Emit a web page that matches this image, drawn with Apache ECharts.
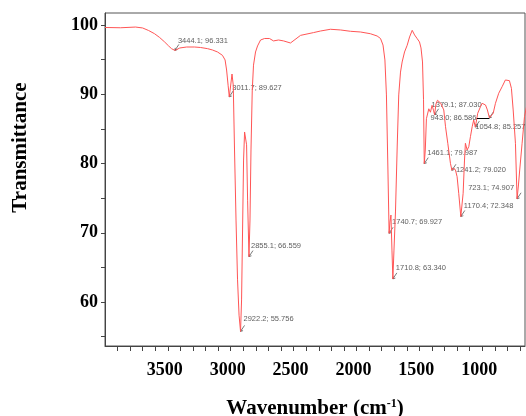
<!DOCTYPE html>
<html>
<head>
<meta charset="utf-8">
<script src="https://cdn.jsdelivr.net/npm/echarts@6/dist/echarts.min.js"></script>
<style>
  html, body { margin: 0; padding: 0; background: #fff; }
  #main { width: 526px; height: 416px; }
</style>
</head>
<body>
<div id="main"></div>
<script>
// FTIR spectrum, wavenumbers (cm-1) and transmittance
var wavenumber = [4000, 3876, 3757, 3701, 3653, 3606, 3566, 3526, 3494, 3471, 3444.1, 3405, 3351, 3288, 3240, 3184, 3145, 3105, 3066, 3045,
  3033, 3021, 3011.7, 3003, 2990, 2980, 2970, 2958, 2946, 2934, 2922.2, 2914, 2906, 2898, 2890, 2882, 2874, 2866, 2855.1, 2847,
  2839, 2829, 2819, 2803, 2787, 2763, 2731, 2692, 2660, 2620, 2580, 2525, 2445, 2342, 2286, 2207, 2127, 2048, 1969, 1890,
  1836, 1809, 1789, 1774, 1762, 1750, 1740.7, 1734, 1726, 1718, 1710.8, 1702, 1690, 1676, 1664, 1650, 1637, 1618, 1597, 1578,
  1557, 1538, 1517, 1499, 1487, 1475, 1467, 1461.1, 1453, 1444, 1425, 1412, 1399, 1388, 1379.1, 1368, 1356, 1330, 1306, 1292,
  1274, 1253, 1241.2, 1227, 1213, 1200, 1187, 1170.4, 1152, 1141, 1134, 1120, 1107, 1094, 1080, 1068, 1054.8, 1036, 1014, 1001,
  974, 959, 943.0, 931, 913, 895, 869, 842, 816, 802, 784, 768, 754, 736, 723.1, 712, 702, 683, 664, 648];
var transmittance = [99.64, 99.6, 99.7, 99.57, 99.2, 98.74, 98.2, 97.55, 96.97, 96.58, 96.331, 96.68, 96.82, 96.82, 96.75, 96.58, 96.39, 96.1, 95.62, 94.95,
  93.5, 91.3, 89.627, 90.9, 92.92, 91.3, 81.95, 71.84, 63.2, 58.1, 55.756, 60.3, 70.4, 80.5, 84.55, 84.8, 82.7, 74.7, 66.559, 71.84,
  81.95, 90.6, 94.2, 96.1, 96.97, 97.83, 98.05, 98.05, 97.7, 97.83, 97.7, 97.4, 98.5, 98.9, 99.13, 99.38, 99.28, 99.09, 98.99, 98.74,
  98.41, 98.05, 97.1, 94.95, 89.9, 79.06, 69.927, 71.55, 72.56, 67.5, 63.34, 67.5, 73.0, 82.67, 89.9, 93.2, 94.66, 96.1, 97.07, 98.27,
  99.23, 98.56, 98.02, 97.55, 96.68, 94.66, 89.2, 79.987, 81.95, 86.47, 87.9, 87.4, 88.4, 87.7, 87.03, 88.6, 89.13, 88.7, 87.73, 85.31,
  82.92, 80.03, 79.02, 79.35, 79.06, 78.09, 75.7, 72.348, 75.7, 80.5, 82.92, 81.95, 82.43, 83.87, 85.31, 86.28, 85.257, 87.25, 88.2, 88.69,
  88.45, 87.73, 86.586, 86.86, 87.25, 88.69, 90.14, 91.09, 92.06, 92.3, 91.96, 90.86, 87.73, 82.92, 74.907, 76.9, 79.06, 82.92, 86.76, 88.2];

// labelled peaks
var peakWn = [3444.1, 3011.7, 2922.2, 2855.1, 1740.7, 1710.8, 1461.1, 1379.1, 943.0, 1054.8, 1241.2, 1170.4, 723.1];
var peakT = [96.331, 89.627, 55.756, 66.559, 69.927, 63.340, 79.987, 87.030, 86.586, 85.257, 79.020, 72.348, 74.907];
var peakText = ['3444.1; 96.331', '3011.7; 89.627', '2922.2; 55.756', '2855.1; 66.559', '1740.7; 69.927', '1710.8; 63.340',
  '1461.1; 79.987', '1379.1; 87.030', '943.0; 86.586', '1054.8; 85.257', '1241.2; 79.020', '1170.4; 72.348', '723.1; 74.907'];

var xTicks = [700, 800, 900, 1000, 1100, 1200, 1300, 1400, 1500, 1600, 1700, 1800, 1900, 2000, 2100, 2200, 2300, 2400,
  2500, 2600, 2700, 2800, 2900, 3000, 3100, 3200, 3300, 3400, 3500, 3600, 3700, 3800, 3900];
var xLabels = [1000, 1500, 2000, 2500, 3000, 3500];
var yTicks = [55, 60, 65, 70, 75, 80, 85, 90, 95, 100];
var yLabels = [60, 70, 80, 90, 100];

// where each peak label sits relative to its arrow [dx, dy, align]
var labelPlace = [[1, -6, 'left'], [1, -6, 'left'], [1, -9, 'left'], [0, -8, 'left'], [1, -8, 'left'], [1, -8, 'left'],
  [1, -8, 'left'], [-5, -7, 'left'], [-15, 3, 'right'], [-2, 3, 'left'], [2, 3, 'left'], [1, -8, 'left'], [-5, -8, 'right']];

var spectrum = wavenumber.map(function (w, i) { return [w, transmittance[i]]; });
var peaks = peakWn.map(function (w, i) {
  return {
    value: [w, peakT[i]],
    label: { offset: [labelPlace[i][0], labelPlace[i][1]], align: labelPlace[i][2] }
  };
});

var serif = '"Liberation Serif", "Times New Roman", serif';
var small = '"Liberation Sans Narrow", "Arial Narrow", "Liberation Sans", sans-serif';

var chart = echarts.init(document.getElementById('main'));
chart.setOption({
  animation: false,
  grid: {
    left: 105, right: 1, top: 13, bottom: 70, containLabel: false, outerBoundsMode: 'none',
    show: true, borderColor: '#555', borderWidth: 1
  },
  xAxis: {
    type: 'value', inverse: true, min: 660, max: 4000,
    splitLine: { show: false },
    axisLine: { lineStyle: { color: '#444' } },
    axisTick: { customValues: xTicks, length: 5, lineStyle: { color: '#444' } },
    axisLabel: {
      customValues: xLabels, margin: 15, color: '#000', fontFamily: serif, fontWeight: 'bold', fontSize: 18,
      padding: [0, 6, 0, 0],
      formatter: function (v) { return String(v); }
    },
    name: '{a|Wavenumber (cm}{s|-1}{a|)}',
    nameLocation: 'middle', nameGap: 52,
    nameTextStyle: {
      rich: {
        a: { fontFamily: serif, fontWeight: 'bold', fontSize: 21, color: '#000' },
        s: { fontFamily: serif, fontWeight: 'bold', fontSize: 12, color: '#000', verticalAlign: 'top' }
      }
    }
  },
  yAxis: {
    type: 'value', min: 53.65, max: 101.73,
    splitLine: { show: false },
    axisLine: { show: true, lineStyle: { color: '#444' } },
    axisTick: { show: true, customValues: yTicks, length: 4, lineStyle: { color: '#444' } },
    axisLabel: { customValues: yLabels, margin: 7, color: '#000', fontFamily: serif, fontWeight: 'bold', fontSize: 18 },
    name: 'Transmittance',
    nameLocation: 'middle', nameGap: 74,
    nameTextStyle: { fontFamily: serif, fontWeight: 'bold', fontSize: 21, color: '#000', padding: [0, 0, 0, 64] }
  },
  series: [
    {
      type: 'line', data: spectrum, showSymbol: false, smooth: false,
      lineStyle: { color: '#ff5555', width: 1 }
    },
    {
      type: 'scatter', data: peaks,
      symbol: 'path://M0,6 L4,0 M0,6 L0.3,3.5 M0,6 L2.5,5.2',
      symbolSize: [4, 6], symbolOffset: [2, -3],
      itemStyle: { color: 'rgba(0,0,0,0)', borderColor: '#333', borderWidth: 0.8 },
      label: {
        show: true, position: 'inside', verticalAlign: 'middle',
        color: '#333', fontFamily: small, fontSize: 7.5,
        formatter: function (p) { return peakText[p.dataIndex]; }
      },
      markLine: {
        silent: true, symbol: 'none', label: { show: false },
        lineStyle: { color: '#000', width: 1, type: 'solid' },
        data: [[{ coord: [peakWn[8] + 100, peakT[8]] }, { coord: [peakWn[8], peakT[8]] }]]
      }
    }
  ]
});
</script>
</body>
</html>
